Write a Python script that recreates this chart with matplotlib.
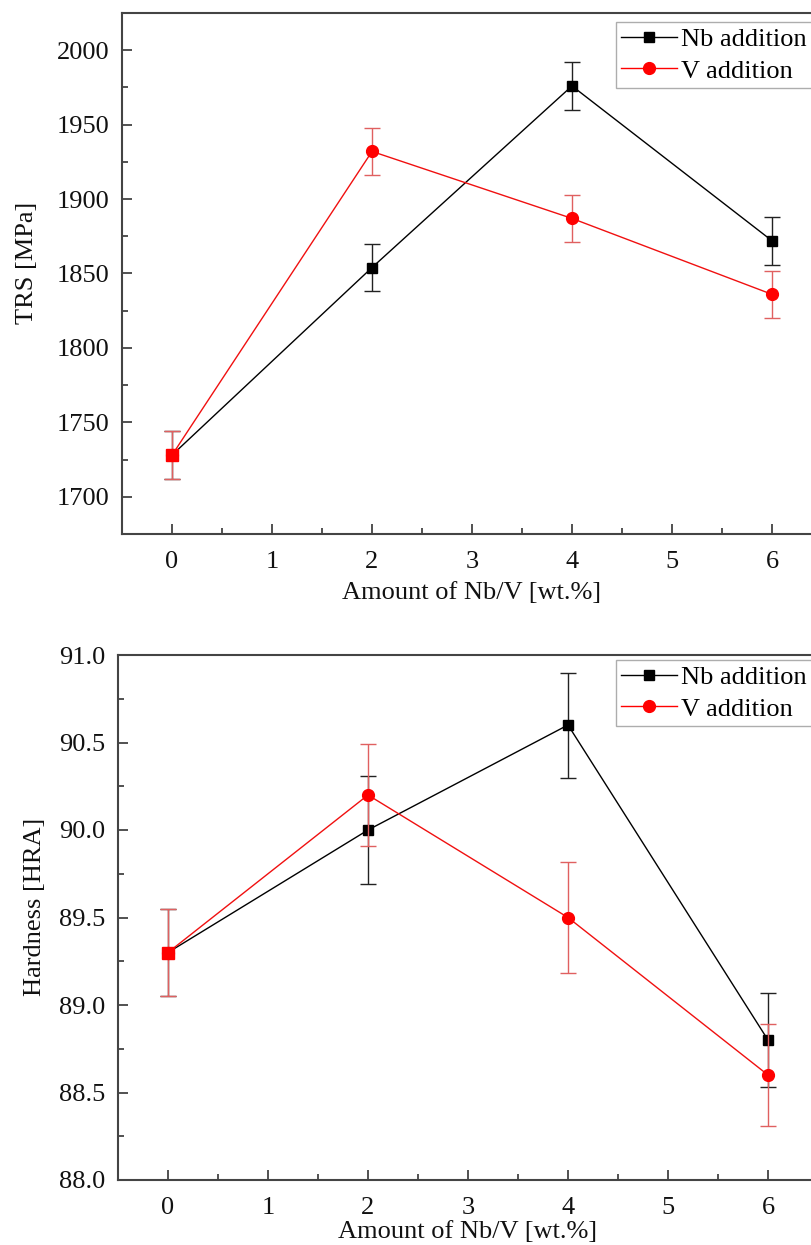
import matplotlib
matplotlib.use("Agg")
import matplotlib.pyplot as plt
from matplotlib.ticker import MultipleLocator
from matplotlib.lines import Line2D

plt.rcParams['font.family'] = ['Liberation Serif', 'DejaVu Serif']

x = [0, 2, 4, 6]
trs_nb = [1728, 1854, 1976, 1872]
trs_nb_err = [16, 16, 16, 16]
trs_v = [1728, 1932, 1887, 1836]
trs_v_err = [16, 16, 16, 16]

hra_nb = [89.3, 90.0, 90.6, 88.8]
hra_nb_err = [0.25, 0.31, 0.30, 0.27]
hra_v = [89.3, 90.2, 89.5, 88.6]
hra_v_err = [0.25, 0.29, 0.32, 0.29]

xlabel = "Amount of Nb/V [wt.%]"
labels = ["Nb addition", "V addition"]

W, H = 812, 1245
FS = 19
fig = plt.figure(figsize=(W / 100, H / 100), dpi=100)

def make_axes(left, top, right, bottom):
    return fig.add_axes([left / W, 1 - bottom / H, (right - left) / W, (bottom - top) / H])

ax1 = make_axes(122, 13, 822, 534)
ax2 = make_axes(118, 655, 818, 1180)

def draw(ax, nb, nb_err, v, v_err, ylim, major, minor, ylabel, fmt, xlabelpad, ylabx):
    ax.errorbar(x, nb, yerr=nb_err, color='black', lw=1.0, marker='s', ms=7,
                mfc='black', mec='black', capsize=6, elinewidth=1.0, capthick=1.0,
                ecolor='#222222', zorder=3)
    ax.errorbar(x, v, yerr=v_err, color='#f01010', lw=1.0, marker='o', ms=8.5,
                mfc='red', mec='red', capsize=6, elinewidth=1.0, capthick=1.0,
                ecolor='#e06060', zorder=4)
    ax.plot(x[:1], nb[:1], linestyle='none', marker='s', ms=8.5, color='red', zorder=5)
    ax.set_xlim(-0.5, 6.5)
    ax.set_ylim(*ylim)
    ax.xaxis.set_major_locator(MultipleLocator(1))
    ax.xaxis.set_minor_locator(MultipleLocator(0.5))
    ax.yaxis.set_major_locator(MultipleLocator(major))
    ax.yaxis.set_minor_locator(MultipleLocator(minor))
    ax.yaxis.set_major_formatter(plt.FormatStrFormatter(fmt))
    ax.tick_params(which='both', direction='in', labelsize=FS, width=1.2, colors='#333333',
                   labelcolor='#111111')
    ax.tick_params(which='major', length=7)
    ax.tick_params(axis='x', which='major', pad=12)
    ax.tick_params(axis='y', which='major', pad=9)
    ax.tick_params(which='minor', length=4)
    ax.tick_params(top=False, right=False, which='both')
    for s in ax.spines.values():
        s.set_linewidth(1.5)
        s.set_color('#444444')
    ax.set_xlabel(xlabel, fontsize=FS, labelpad=xlabelpad, color='#111111')
    ax.set_ylabel(ylabel, fontsize=FS, color='#111111')
    ax.yaxis.set_label_coords(ylabx, 0.52)
    handles = [
        Line2D([], [], color='black', lw=1.0, marker='s', ms=7),
        Line2D([], [], color='red', lw=1.0, marker='o', ms=8.5),
    ]
    leg = ax.legend(handles, labels, loc='upper left',
                    fontsize=FS, frameon=True, fancybox=False,
                    edgecolor='#999999', handlelength=2.1,
                    handletextpad=0.15, borderpad=0.2, labelspacing=0.32,
                    borderaxespad=0)
    leg.get_frame().set_linewidth(1.0)
    return leg

leg1 = draw(ax1, trs_nb, trs_nb_err, trs_v, trs_v_err, (1675, 2025), 50, 25,
            "TRS [MPa]", '%d', 7, -0.12)
leg2 = draw(ax2, hra_nb, hra_nb_err, hra_v, hra_v_err, (88.0, 91.0), 0.5, 0.25,
            "Hardness [HRA]", '%.1f', 2, -0.103)
leg1.set_bbox_to_anchor((616 / W, 1 - 22 / H), transform=fig.transFigure)
leg2.set_bbox_to_anchor((616 / W, 1 - 660 / H), transform=fig.transFigure)

fig.savefig("out.png", dpi=100)
